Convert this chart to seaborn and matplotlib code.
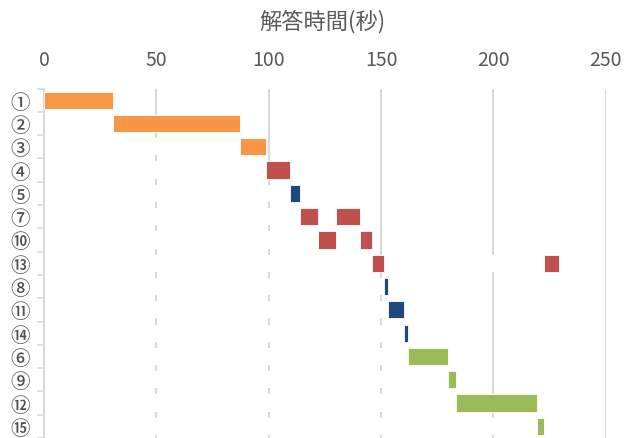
import matplotlib
matplotlib.use("Agg")
import matplotlib.pyplot as plt
import seaborn as sns
import numpy as np
import pandas as pd

# Row order (top to bottom)
labels = ['①', '②', '③', '④', '⑤', '⑦', '⑩', '⑬', '⑧', '⑪', '⑭', '⑥', '⑨', '⑫', '⑮']

# Answer segments in time order
seg_label = ['①', '②', '③', '④', '⑤', '⑦', '⑩', '⑦', '⑩', '⑬', '⑧', '⑪', '⑭', '⑥', '⑨', '⑫', '⑮', '⑬']
seg_start = [0, 30.8, 87.2, 98.8, 109.5, 113.8, 122.0, 130.0, 140.7, 146.1, 151.4, 153.3, 160.3, 162.2, 180.0, 183.5, 219.3, 222.7]
seg_end = [30.8, 87.2, 98.8, 109.5, 113.8, 122.0, 130.0, 140.7, 146.1, 151.4, 153.3, 160.3, 162.2, 180.0, 183.5, 219.3, 222.7, 229.1]
seg_group = ['A', 'A', 'A', 'B', 'C', 'B', 'B', 'B', 'B', 'B', 'C', 'C', 'C', 'D', 'D', 'D', 'D', 'B']

group_colors = {'A': '#F79646', 'B': '#C0504D', 'C': '#1F497D', 'D': '#9BBB59'}

x_ticks = [0, 50, 100, 150, 200, 250]
x_title = '解答時間(秒)'

sns.set_theme(style='white')
plt.rcParams['font.family'] = ['Noto Sans CJK JP', 'DejaVu Sans']

txt = '#595959'
grid_c = '#D9D9D9'

segs = pd.DataFrame({'label': seg_label, 'start': seg_start, 'end': seg_end, 'group': seg_group})
row_end = segs.groupby('label')['end'].max().reindex(labels).values
bg = pd.DataFrame({'label': labels, 'end': row_end})

fig = plt.figure(figsize=(6.25, 4.39), dpi=100)
ax = fig.add_axes([44 / 625, 0.0, (605.7 - 44) / 625, 1 - 89.5 / 439])

bar_h = 0.74
# white "offset" bars (hide the gridlines like an Excel stacked Gantt chart)
sns.barplot(data=bg, x='end', y='label', order=labels, orient='h', color='white',
            width=bar_h, ax=ax, zorder=2, saturation=1, linewidth=0)

pos = {lab: i for i, lab in enumerate(labels)}
for _, r in segs.iterrows():
    ax.barh(pos[r['label']], r['end'] - r['start'], left=r['start'], height=bar_h,
            color=group_colors[r['group']], edgecolor='#FFFFFF', linewidth=0.6, zorder=3)

ax.set_xlim(0, 250)
ax.set_ylim(len(labels) - 0.5, -0.5)

ax.set_axisbelow(True)
ax.set_xticks(x_ticks)
ax.xaxis.tick_top()
ax.xaxis.set_label_position('top')
ax.tick_params(axis='x', length=0, labelsize=14, labelcolor=txt, pad=13)
ax.set_xlabel('')
ax.xaxis.grid(True, color=grid_c, linewidth=1.5, zorder=0)
ax.yaxis.grid(False)

fig.text(322 / 625, 1 - 22 / 439, x_title, fontsize=16, color=txt, ha='center', va='center')

ax.set_yticks(range(len(labels)))
ax.set_yticklabels(labels)
ax.set_ylabel('')
ax.set_yticks(np.arange(-0.5, len(labels), 1.0), minor=True)
ax.tick_params(axis='y', which='major', length=0, labelsize=14, labelcolor='#505050', pad=10)
for t in ax.get_yticklabels():
    t.set_fontweight('medium')
ax.tick_params(axis='y', which='minor', length=5, width=1.2, color=grid_c, left=True)

for s in ['top', 'right', 'bottom']:
    ax.spines[s].set_visible(False)
ax.spines['left'].set_color(grid_c)
ax.spines['left'].set_linewidth(1.5)

fig.savefig('out.png', dpi=100, facecolor='white')
